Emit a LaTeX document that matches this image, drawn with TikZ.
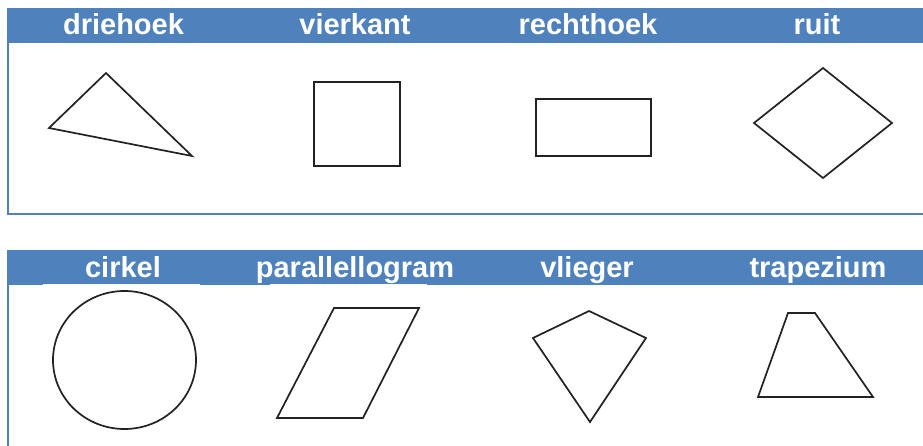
\documentclass[tikz,border=0pt]{standalone}
\usepackage{fontspec}
\setmainfont{Liberation Sans}
\definecolor{barblue}{HTML}{4F81BD}
\definecolor{shapeline}{HTML}{222222}
\begin{document}
\begin{tikzpicture}[x=1pt,y=-1pt,
  header/.style={anchor=base,text=white,inner sep=0pt,font=\bfseries\fontsize{29}{31}\selectfont},
  figure/.style={draw=shapeline,line width=1.7pt,line join=miter},
  frame/.style={draw=barblue,line width=2pt}]
\useasboundingbox (0,0) rectangle (923,446);
\fill[white] (0,0) rectangle (923,446);

% upper panel
\fill[barblue] (7,8) rectangle (923,43);
\draw[frame] (8,43) -- (8,214.5) -- (923,214.5);
\node[header] (driehoek) at (123.5,35) {driehoek};
\node[header] (vierkant) at (355,35) {vierkant};
\node[header] (rechthoek) at (588,35) {rechthoek};
\node[header] (ruit) at (817,35) {ruit};

\draw[figure] (106,73) -- (49,128) -- (192,156) -- cycle;
\draw[figure] (314,82) rectangle (400,166);
\draw[figure] (536,99) rectangle (651,156);
\draw[figure] (823,68) -- (892,123) -- (823,178) -- (754,123) -- cycle;

% lower panel
\fill[barblue] (7,250) rectangle (923,285);
\fill[white] (43,283.5) rectangle (200,285.2);
\fill[white] (270,283.5) rectangle (427,285.2);
\draw[frame] (8,285) -- (8,446);
\node[header] (cirkel) at (123,277) {cirkel};
\node[header] (parallellogram) at (355,277) {parallellogram};
\node[header] (vlieger) at (587,277) {vlieger};
\node[header] (trapezium) at (818,277) {trapezium};

\draw[figure] (124.5,360) ellipse [x radius=71.5, y radius=69];
\draw[figure] (334,308) -- (419,308) -- (363,418) -- (277,418) -- cycle;
\draw[figure] (589,311) -- (646,338) -- (590,422) -- (533,338) -- cycle;
\draw[figure] (788,313) -- (815,313) -- (873,397) -- (758,397) -- cycle;
\end{tikzpicture}
\end{document}
